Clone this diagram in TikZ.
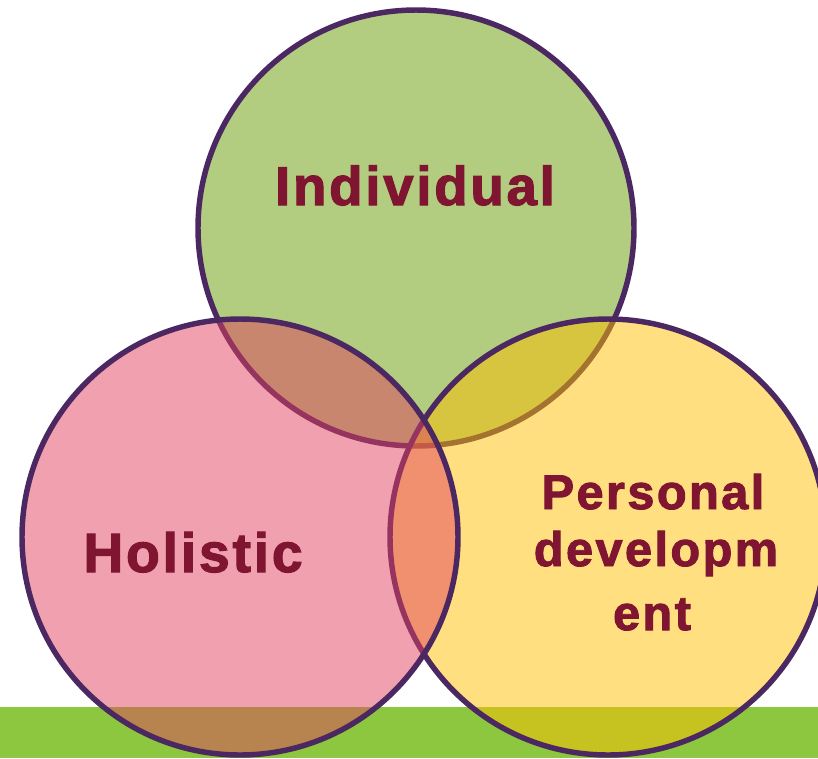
\documentclass[tikz,border=0pt]{standalone}
\usepackage{fontspec}
\setmainfont{Liberation Sans}
\newfontfamily\labelfont{Liberation Sans Bold}[FakeBold=2,LetterSpace=5]
\definecolor{bandgreen}{RGB}{141,198,63}
\definecolor{vgreen}{RGB}{101,153,1}
\definecolor{vpink}{RGB}{225,65,93}
\definecolor{vyellow}{RGB}{255,191,0}
\definecolor{vstroke}{RGB}{75,40,98}
\definecolor{vtext}{RGB}{127,21,48}
\begin{document}
\begin{tikzpicture}[x=0.75pt,y=-0.75pt,
  venn/.style={circle,draw=vstroke,line width=4.1pt,fill opacity=0.5,
    draw opacity=1,inner sep=0pt,minimum size=327pt},
  lbl/.style={text=vtext,inner sep=0pt,anchor=base}]
  \useasboundingbox (0,0) rectangle (818,758);
  % ground strip
  \fill[bandgreen] (0,707) rectangle (818,758);
  % three overlapping circles
  \node[venn,fill=vgreen]  (indiv) at (416,228) {};
  \node[venn,fill=vyellow] (pers)  at (608,537) {};
  \node[venn,fill=vpink]   (holi)  at (240,537) {};
  % labels
  \node[lbl,font=\labelfont\fontsize{41pt}{48pt}\selectfont] (tindiv) at (415,205) {Individual};
  \node[lbl,font=\labelfont\fontsize{41.5pt}{50pt}\selectfont] (tholi) at (193,572) {Holistic};
  \node[lbl,font=\labelfont\fontsize{36.5pt}{44pt}\selectfont] (tpers1) at (653,509) {Personal};
  \node[lbl,font=\labelfont\fontsize{36.5pt}{44pt}\selectfont] (tpers2) at (656,566) {developm};
  \node[lbl,font=\labelfont\fontsize{36.5pt}{44pt}\selectfont] (tpers3) at (652,630) {ent};
\end{tikzpicture}
\end{document}
